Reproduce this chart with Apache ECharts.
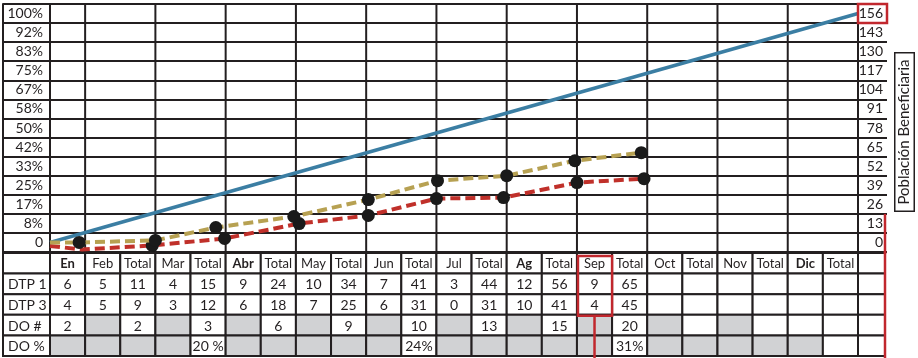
<!DOCTYPE html>
<html>
<head>
<meta charset="utf-8">
<script src="https://cdn.jsdelivr.net/npm/echarts@6/dist/echarts.min.js"></script>
<style>
  html, body { margin: 0; padding: 0; background: #fff; }
  #main { width: 918px; height: 358px; }
</style>
</head>
<body>
<div id="main"></div>
<script>
// ---- data ----
const percentLabels = ['0', '8%', '17%', '25%', '33%', '42%', '50%', '58%', '67%', '75%', '83%', '92%', '100%'];
const populationLabels = ['0', '13', '26', '39', '52', '65', '78', '91', '104', '117', '130', '143', '156'];
const columns = ['En', 'Feb', 'Total', 'Mar', 'Total', 'Abr', 'Total', 'May', 'Total', 'Jun', 'Total', 'Jul', 'Total',
                 'Ag', 'Total', 'Sep', 'Total', 'Oct', 'Total', 'Nov', 'Total', 'Dic', 'Total'];
const boldColumns = ['En', 'Abr', 'Ag', 'Dic'];
const rowNames = ['DTP 1', 'DTP 3', 'DO #', 'DO %'];
const dtp1 = [6, 5, 11, 4, 15, 9, 24, 10, 34, 7, 41, 3, 44, 12, 56, 9, 65, '', '', '', '', '', ''];
const dtp3 = [4, 5, 9, 3, 12, 6, 18, 7, 25, 6, 31, 0, 31, 10, 41, 4, 45, '', '', '', '', '', ''];
// null = shaded cell (not applicable)
const doCount = [2, null, 2, null, 3, null, 6, null, 9, null, 10, null, 13, null, 15, null, 20, null, '', null, '', '', ''];
const doPercent = [null, null, null, null, '20 %', null, null, null, null, null, '24%', null, null, null, null, null, '31%',
                   null, null, null, null, null, ''];
// line points: [column position, population]
const targetLine = [[0, 0], [23, 156]];
const dtp1Line = [[0, 0], [0.83, 0], [3.0, 1.4], [4.72, 10.2], [6.94, 17.7], [9.06, 29.2], [11.03, 42.1], [13, 45.5], [14.94, 55.7], [16.83, 61.2]];
const dtp3Line = [[0, -2.4], [0.91, -4.8], [2.91, -2], [4.97, 2.7], [7.09, 12.9], [9.06, 18.4], [11, 29.9], [12.91, 30.6], [15, 40.8], [16.91, 43.5]];
const highlightMonth = 'Sep';
const axisTitle = 'Población Beneficiaria';

// ---- style ----
const INK = '#231f20';
const GRID = '#231f20';
const SHADE = '#d1d2d4';
const RED = '#c1272d';
const FONT = 'Lato, "Open Sans", sans-serif';
const LABEL_COL = 47;   // width of the row-name column
const EXTRA_COL = 27;   // width of the trailing blank column
const nCols = columns.length;
const half = 6.5;       // half a row on the population scale
const popMax = 156;

// month start columns -> vertical rules of the upper chart
const monthStarts = columns.map((c, i) => (c !== 'Total' ? i : -1)).filter(i => i > 0);

// table cells
const tableRows = [columns, dtp1, dtp3, doCount, doPercent];
const cells = [];
tableRows.forEach((row, r) => {
  cells.push({ col: -1, row: r, text: r === 0 ? '' : rowNames[r - 1], shaded: false, bold: false });
  row.forEach((v, c) => {
    cells.push({
      col: c, row: r,
      text: v === null ? '' : String(v),
      shaded: v === null,
      bold: r === 0 && boldColumns.includes(v)
    });
  });
  cells.push({ col: nCols, row: r, text: '', shaded: false, bold: false });
});

function cellX(api, col) {
  if (col < 0) { const x1 = api.coord([0, 0])[0]; return [x1 - LABEL_COL, x1]; }
  if (col >= nCols) { const x0 = api.coord([nCols, 0])[0]; return [x0, x0 + EXTRA_COL]; }
  return [api.coord([col, 0])[0], api.coord([col + 1, 0])[0]];
}

const chart = echarts.init(document.getElementById('main'), null, { renderer: 'canvas' });

const dashed = (color) => ({ color, width: 4, type: [10, 5] });

const option = {
  animation: false,
  grid: [
    { left: 50, top: 4, width: 808, height: 248 },
    { left: 50, top: 253, width: 808, height: 103 }
  ],
  xAxis: [
    { gridIndex: 0, type: 'value', min: 0, max: nCols, show: false },
    { gridIndex: 1, type: 'value', min: 0, max: nCols, show: false }
  ],
  yAxis: [
    {
      gridIndex: 0, type: 'category', data: percentLabels, position: 'left', boundaryGap: true,
      axisLine: { show: true, lineStyle: { color: GRID, width: 2 } },
      axisTick: { show: true, interval: 0, length: LABEL_COL, lineStyle: { color: GRID, width: 2 } },
      axisLabel: { interval: 0, margin: 7, fontSize: 14, color: INK, fontFamily: FONT },
      splitLine: { show: true, interval: 0, lineStyle: { color: GRID, width: 2 } }
    },
    {
      gridIndex: 0, type: 'category', data: populationLabels, position: 'right', boundaryGap: true,
      axisLine: { show: true, lineStyle: { color: GRID, width: 2 } },
      axisTick: { show: true, interval: 0, length: 29, lineStyle: { color: GRID, width: 2 } },
      axisLabel: { interval: 0, margin: 25, align: 'right', fontSize: 14, color: INK, fontFamily: FONT },
      splitLine: { show: false }
    },
    { gridIndex: 0, type: 'value', min: -half, max: popMax + half, show: false },
    {
      gridIndex: 0, type: 'category', data: percentLabels, position: 'left', offset: LABEL_COL,
      axisLine: { show: true, lineStyle: { color: GRID, width: 2 } },
      axisTick: { show: false }, axisLabel: { show: false }, splitLine: { show: false }
    },
    { gridIndex: 1, type: 'value', min: 0, max: tableRows.length, inverse: true, show: false }
  ],
  graphic: [{
    type: 'text',
    x: 904.5, y: 132,
    rotation: Math.PI / 2,
    style: {
      text: axisTitle, x: 0, y: 0,
      align: 'center', verticalAlign: 'middle', textAlign: 'center', textVerticalAlign: 'middle',
      font: '15px ' + FONT, fill: INK,
      backgroundColor: '#fff', borderColor: INK, borderWidth: 1.5, padding: [2, 6, 1, 6]
    }
  }],
  series: [
    {
      // vertical month rules in the upper chart
      type: 'custom', xAxisIndex: 0, yAxisIndex: 2, z: 1, silent: true,
      data: monthStarts.map(i => [i, 0]),
      renderItem(params, api) {
        const x = api.coord([api.value(0), 0])[0];
        const yTop = api.coord([0, popMax + half])[1];
        const yBot = api.coord([0, -half])[1];
        return { type: 'line', shape: { x1: x, y1: yTop, x2: x, y2: yBot }, style: { stroke: GRID, lineWidth: 2 } };
      }
    },
    {
      name: 'Población', type: 'line', xAxisIndex: 0, yAxisIndex: 2, z: 3,
      data: targetLine, symbol: 'none',
      lineStyle: { color: '#3b7ea3', width: 3.5 }
    },
    {
      name: 'DTP 3', type: 'line', xAxisIndex: 0, yAxisIndex: 2, z: 4,
      data: dtp3Line.map((p, i) => (i < 2 ? { value: p, symbol: 'none' } : p)),
      symbol: 'circle', symbolSize: 13, showAllSymbol: true,
      itemStyle: { color: '#1a1a1a' },
      lineStyle: dashed('#c0302a')
    },
    {
      name: 'DTP 1', type: 'line', xAxisIndex: 0, yAxisIndex: 2, z: 5,
      data: dtp1Line.map((p, i) => (i === 0 ? { value: p, symbol: 'none' } : p)),
      symbol: 'circle', symbolSize: 13, showAllSymbol: true,
      itemStyle: { color: '#1a1a1a' },
      lineStyle: dashed('#b7a152')
    },
    {
      // red marks on the population scale
      type: 'custom', xAxisIndex: 0, yAxisIndex: 2, z: 6, silent: true,
      data: [[nCols, popMax]],
      renderItem(params, api) {
        const x0 = api.coord([nCols, 0])[0];
        const yTop = api.coord([0, popMax + half])[1];
        const yRow = api.coord([0, popMax - half])[1];
        const yMark = api.coord([0, 13 + half])[1];
        const yBot = api.coord([0, -half])[1];
        return {
          type: 'group', children: [
            { type: 'rect', shape: { x: x0, y: yTop, width: 29, height: yRow - yTop }, style: { fill: 'none', stroke: RED, lineWidth: 2.5 } },
            { type: 'line', shape: { x1: x0 + EXTRA_COL, y1: yMark, x2: x0 + EXTRA_COL, y2: yBot + 2 }, style: { stroke: RED, lineWidth: 2.5 } }
          ]
        };
      }
    },
    {
      // data table
      type: 'custom', xAxisIndex: 1, yAxisIndex: 4, z: 2, silent: true,
      data: cells.map(c => [c.col, c.row]),
      renderItem(params, api) {
        const cell = cells[params.dataIndex];
        const [x0, x1] = cellX(api, cell.col);
        const y0 = api.coord([0, cell.row])[1];
        const y1 = api.coord([0, cell.row + 1])[1];
        const isName = cell.col < 0;
        return {
          type: 'group', children: [
            { type: 'rect', shape: { x: x0, y: y0, width: x1 - x0, height: y1 - y0 },
              style: { fill: cell.shaded ? SHADE : '#fff', stroke: GRID, lineWidth: 2 } },
            { type: 'text',
              style: {
                text: cell.text, x: isName ? x0 + 5 : (x0 + x1) / 2, y: (y0 + y1) / 2 + 1,
                align: isName ? 'left' : 'center', verticalAlign: 'middle',
                textAlign: isName ? 'left' : 'center', textVerticalAlign: 'middle',
                font: (cell.bold ? 'bold ' : '') + (cell.row === 0 ? '13px ' : '14px ') + FONT, fill: INK
              } }
          ]
        };
      }
    },
    {
      // red marks on the table
      type: 'custom', xAxisIndex: 1, yAxisIndex: 4, z: 7, silent: true,
      data: [[columns.indexOf(highlightMonth), 0]],
      renderItem(params, api) {
        const c = api.value(0);
        const [x0, x1] = cellX(api, c);
        const yTop = api.coord([0, 0])[1];
        const yMid = api.coord([0, 3])[1];
        const yBot = api.coord([0, tableRows.length])[1];
        const xr = api.coord([nCols, 0])[0] + EXTRA_COL;
        const xc = (x0 + x1) / 2;
        return {
          type: 'group', children: [
            { type: 'rect', shape: { x: x0 + 1, y: yTop + 3, width: x1 - x0 - 1, height: yMid - yTop - 2 }, style: { fill: 'none', stroke: RED, lineWidth: 2.5 } },
            { type: 'line', shape: { x1: xc, y1: yMid + 1, x2: xc, y2: yBot + 2 }, style: { stroke: RED, lineWidth: 2.5 } },
            { type: 'line', shape: { x1: xr, y1: yTop - 2, x2: xr, y2: yBot + 2 }, style: { stroke: RED, lineWidth: 2.5 } }
          ]
        };
      }
    }
  ]
};

chart.setOption(option);
</script>
</body>
</html>
